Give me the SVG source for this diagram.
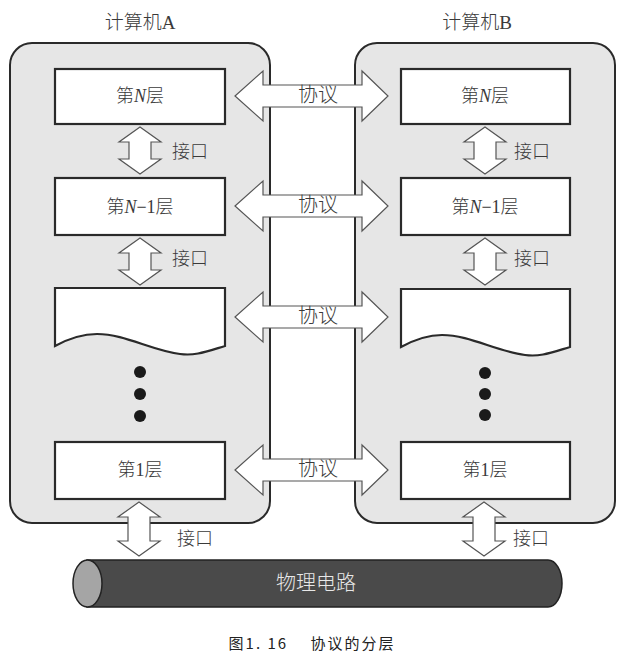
<svg xmlns="http://www.w3.org/2000/svg" width="624" height="653" viewBox="0 0 624 653">
<style>
.comp{fill:#e6e6e6;stroke:#2a2a2a;stroke-width:2}
.layer{fill:#ffffff;stroke:#2a2a2a;stroke-width:2.2}
.arr{fill:#ffffff;stroke:#555555;stroke-width:1.2;stroke-linejoin:miter}
.t{font-family:"Liberation Serif","Noto Sans CJK SC",serif;fill:#3a3a3a;text-anchor:middle;dominant-baseline:central;font-weight:300}
.lt{font-size:18px}
.it{font-size:18px;text-anchor:start}
.pt{font-size:20px}
.tt{font-size:19px}
.dot{fill:#1a1a1a}
</style>
<defs>
<path id="parr" d="M235,0 L263,-25 L263,-11 L362,-11 L362,-25 L388,0 L362,25 L362,11 L263,11 L263,25 Z"/>
<path id="varr" d="M0,0 L21,15 L11,15 L11,32 L21,32 L0,47 L-21,32 L-11,32 L-11,15 L-21,15 Z"/>
<path id="varrL" d="M0,0 L21,15 L11,15 L11,39 L21,39 L0,54 L-21,39 L-11,39 L-11,15 L-21,15 Z"/>
</defs>
<g id="computerA">
<rect class="comp" x="10" y="43" width="260" height="480" rx="22"/>
<text class="t tt" x="140" y="22">计算机A</text>
</g>
<g id="computerB">
<rect class="comp" x="355" y="43" width="260" height="480" rx="22"/>
<text class="t tt" x="477" y="22">计算机B</text>
</g>
<g id="A_layerN"><rect class="layer" x="55" y="69" width="170" height="55"/><text class="t lt" x="140" y="96">第<tspan font-style="italic">N</tspan>层</text></g>
<g id="A_layerN1"><rect class="layer" x="55" y="178" width="170" height="57"/><text class="t lt" x="140" y="207">第<tspan font-style="italic">N</tspan>−1层</text></g>
<g id="A_layerX"><path class="layer" d="M55,288 L225,288 L225,346 C205,352 195,356 180,354 C150,350 125,334 97,334 C80,334 66,340 55,346 Z"/></g>
<g id="A_dots"><circle class="dot" cx="140" cy="372" r="6"/><circle class="dot" cx="140" cy="394" r="6"/><circle class="dot" cx="140" cy="416" r="6"/></g>
<g id="A_layer1"><rect class="layer" x="55" y="442" width="170" height="57"/><text class="t lt" x="140" y="470">第1层</text></g>
<g id="B_layerN"><rect class="layer" x="401" y="69" width="169" height="55"/><text class="t lt" x="485" y="96">第<tspan font-style="italic">N</tspan>层</text></g>
<g id="B_layerN1"><rect class="layer" x="401" y="178" width="169" height="57"/><text class="t lt" x="485" y="207">第<tspan font-style="italic">N</tspan>−1层</text></g>
<g id="B_layerX"><path class="layer" d="M401,289 L570,289 L570,347 C550,353 540,357 525,355 C495,351 470,335 442,335 C425,335 412,341 401,347 Z"/></g>
<g id="B_dots"><circle class="dot" cx="485" cy="373" r="6"/><circle class="dot" cx="485" cy="394" r="6"/><circle class="dot" cx="485" cy="415" r="6"/></g>
<g id="B_layer1"><rect class="layer" x="401" y="442" width="169" height="57"/><text class="t lt" x="485" y="470">第1层</text></g>
<g id="cable">
<path d="M87,560 L548,560 A14,23.5 0 0 1 548,607 L87,607 Z" fill="#4a4a4a" stroke="#222" stroke-width="1.5"/>
<ellipse cx="87.5" cy="583.5" rx="14.5" ry="23.5" fill="#a5a5a5" stroke="#222" stroke-width="1.5"/>
<text class="t" x="316" y="583" font-size="20" style="fill:#e8e8e8">物理电路</text>
</g>
<g id="connectors">
<use href="#parr" class="arr" transform="translate(0,96)"/>
<use href="#parr" class="arr" transform="translate(0,206)"/>
<use href="#parr" class="arr" transform="translate(0,317)"/>
<use href="#parr" class="arr" transform="translate(0,470)"/>
<use href="#varr" class="arr" transform="translate(140,127)"/>
<use href="#varr" class="arr" transform="translate(140,238)"/>
<use href="#varrL" class="arr" transform="translate(139,502)"/>
<use href="#varr" class="arr" transform="translate(485,127)"/>
<use href="#varr" class="arr" transform="translate(485,238)"/>
<use href="#varrL" class="arr" transform="translate(484,502)"/>
<text class="t pt" x="318" y="95">协议</text>
<text class="t pt" x="318" y="205">协议</text>
<text class="t pt" x="318" y="316">协议</text>
<text class="t pt" x="318" y="469">协议</text>
<text class="t it" x="172" y="152">接口</text>
<text class="t it" x="172" y="259">接口</text>
<text class="t it" x="177" y="539">接口</text>
<text class="t it" x="514" y="152">接口</text>
<text class="t it" x="514" y="259">接口</text>
<text class="t it" x="513" y="539">接口</text>
</g>
<text x="312" y="642" font-family="'Noto Sans CJK SC','Noto Sans',sans-serif" font-size="15" font-weight="400" fill="#222" text-anchor="middle" dominant-baseline="central" letter-spacing="2">图1. 16　 协议的分层</text>
</svg>
